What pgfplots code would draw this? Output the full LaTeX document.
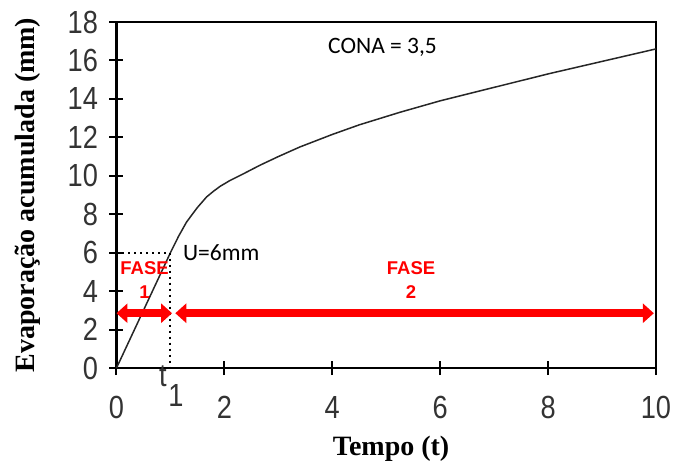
\documentclass[border=0pt]{standalone}
\usepackage{pgfplots}
\pgfplotsset{compat=1.18}
\usepackage{fontspec}
\setmainfont{Liberation Sans}
\newfontfamily\tickf[FakeStretch=0.85]{Liberation Sans}
\newfontfamily\timesf{Liberation Serif}
\newfontfamily\calib{Carlito}
\usetikzlibrary{arrows.meta}

\begin{document}
\begin{tikzpicture}
\begin{axis}[
  scale only axis,
  width=539.5pt, height=346pt,
  xmin=0, xmax=10, ymin=0, ymax=18,
  xtick={0,2,4,6,8,10}, ytick={0,2,4,6,8,10,12,14,16,18},
  xtick pos=bottom, ytick pos=left,
  tick align=center,
  major tick length=14pt,
  axis line style={line width=2.2pt, draw=black},
  major tick style={line width=2pt, draw=black},
  ticklabel style={font=\tickf\fontsize{32}{32}\selectfont, text=black!80},
  /pgf/number format/assume math mode=true,
  xticklabel style={yshift=-18pt},
  yticklabel style={xshift=-8pt},
  xlabel={Tempo (t)},
  ylabel={Evaporação acumulada (mm)},
  label style={font=\timesf\bfseries\fontsize{28}{28}\selectfont},
  xlabel style={at={(axis description cs:0.509,-0.234)}, anchor=center},
  ylabel style={at={(axis description cs:-0.164,0.5)}, anchor=center},
  clip=false,
]
% curva de evaporacao acumulada
\addplot[line width=1.5pt, black!85] coordinates {
  (0,0) (0.5,3.0) (1,6.0) (1.15,6.85) (1.3,7.6) (1.5,8.35) (1.67,8.9)
  (1.8,9.2) (1.92,9.45) (2.1,9.75) (2.35,10.1) (2.66,10.55) (3.0,11.0)
  (3.4,11.5) (4.0,12.15) (4.5,12.65) (5.25,13.3)
  (6,13.9) (7,14.6) (8,15.3) (9,15.95) (10,16.6)
};
% U = 6 mm e t1
\addplot[black, line width=2pt, dash pattern=on 2pt off 4pt] coordinates {(0,6) (1,6) (1,0)};

% setas das fases
\draw[red, line width=8pt, {Triangle[width=19pt,length=11pt]}-{Triangle[width=19pt,length=11pt]}]
  (axis cs:0,2.85) -- (axis cs:1.03,2.85);
\draw[red, line width=8pt, {Triangle[width=19pt,length=11pt]}-{Triangle[width=19pt,length=11pt]}]
  (axis cs:1.09,2.85) -- (axis cs:9.96,2.85);

\node[red, font=\bfseries\fontsize{18.5}{24}\selectfont, align=center] at (axis cs:0.52,4.58) {FASE\\1};
\node[red, font=\bfseries\fontsize{18.5}{24}\selectfont, align=center] at (axis cs:5.46,4.58) {FASE\\2};

\node[anchor=west, inner sep=0pt, font=\calib\fontsize{23.5}{23.5}\selectfont] at (axis cs:3.92,16.67) {CONA = 3,5};
\node[anchor=west, inner sep=0pt, font=\calib\fontsize{23.5}{23.5}\selectfont] at (axis cs:1.23,5.99) {U=6mm};

\node[inner sep=0pt, font=\tickf\fontsize{32}{32}\selectfont, text=black!80] at ([yshift=-8pt]axis cs:0.86,0) {t};
\node[inner sep=0pt, font=\tickf\fontsize{32}{32}\selectfont, text=black!80] at ([yshift=-27pt]axis cs:1.10,0) {1};

\coordinate (o) at (rel axis cs:0,0);
\end{axis}
\path (o) ++(-116.5pt,-99pt) rectangle ++(678pt,467pt);
\end{tikzpicture}
\end{document}
